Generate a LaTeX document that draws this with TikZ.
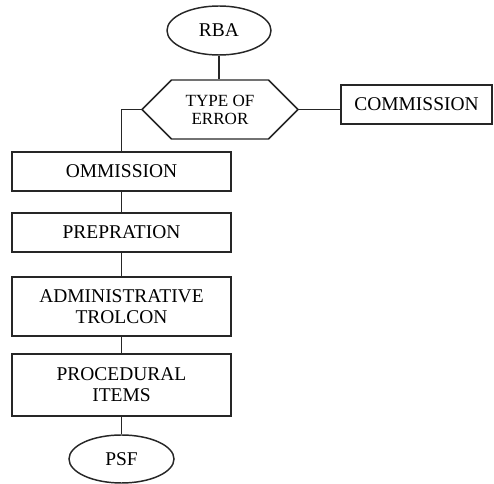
\documentclass[tikz,border=0pt]{standalone}
\usepackage{fontspec}
\setmainfont{Liberation Serif}
\usetikzlibrary{shapes.geometric,shapes.symbols}

\tikzset{
  line/.style={draw=black!85, line width=1.1pt},
  terminal/.style={ellipse, line, inner sep=0pt, font=\fontsize{14.6pt}{15.75pt}\selectfont},
  stepbox/.style={rectangle, line, inner sep=0pt, align=center,
    minimum width=164.25pt, font=\fontsize{14.6pt}{15.75pt}\selectfont},
  decision/.style={signal, signal to=east and west, signal pointer angle=90,
    line, inner sep=0pt, align=center, minimum width=117pt, minimum height=44.25pt,
    font=\fontsize{12.8pt}{13.5pt}\selectfont},
}

\begin{document}
\begin{tikzpicture}[x=0.75pt, y=-0.75pt]
  \useasboundingbox (0,0) rectangle (494,484);

  \node[terminal, minimum width=78pt, minimum height=36.75pt] (rba) at (219,30.5) {RBA};
  \node[decision] (err) at (220,109.5) {TYPE OF\\ERROR};
  \node[stepbox, minimum width=113.25pt, minimum height=29.25pt] (com) at (416.5,104.5) {COMMISSION};

  \node[stepbox, minimum height=29.25pt] (om)   at (121.5,171.5) {OMMISSION};
  \node[stepbox, minimum height=29.25pt] (prep) at (121.5,232.5) {PREPRATION};
  \node[stepbox, minimum height=44.25pt] (adm)  at (121.5,306.5) {ADMINISTRATIVE\\TROLCON};
  \node[stepbox, minimum height=46.5pt]  (proc) at (121.5,385)   {PROCEDURAL\\ITEMS};
  \node[terminal, minimum width=78.75pt, minimum height=36pt] (psf) at (121.5,459) {PSF};

  \draw[line] (rba.south) -- (rba.south |- err.north);
  \draw[line] (err.east) -- (err.east -| com.west);
  \draw[line] (err.west) -| (om.north);
  \draw[line] (om.south) -- (prep.north);
  \draw[line] (prep.south) -- (adm.north);
  \draw[line] (adm.south) -- (proc.north);
  \draw[line] (proc.south) -- (psf.north);
\end{tikzpicture}
\end{document}
